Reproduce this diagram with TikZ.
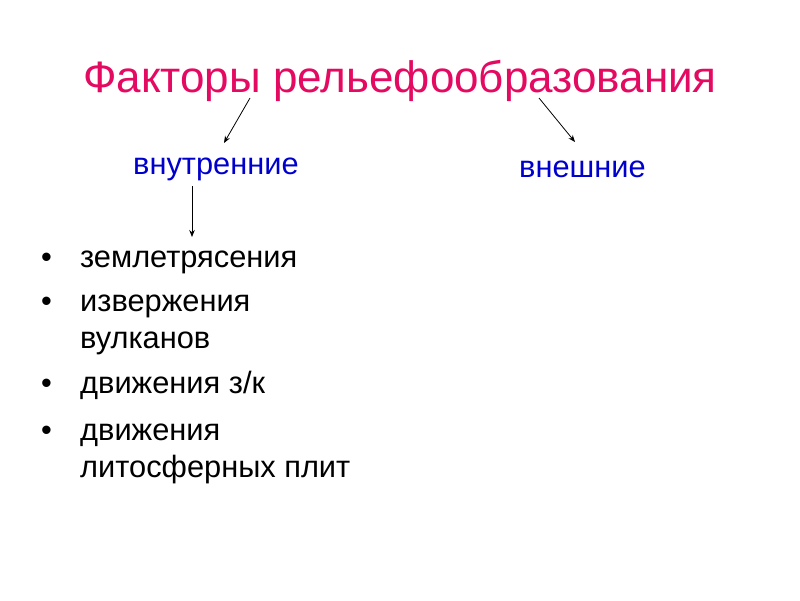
\documentclass[tikz,border=0pt]{standalone}
\usepackage{fontspec}
\setmainfont{Liberation Sans}
\usetikzlibrary{arrows.meta}
\definecolor{titlered}{RGB}{228,10,98}
\definecolor{subblue}{RGB}{0,0,204}
\begin{document}
\begin{tikzpicture}[x=1pt,y=-1pt,
  titletext/.style={font=\fontsize{44}{50}\selectfont, text=titlered, inner sep=0pt, anchor=base west},
  subtext/.style={font=\fontsize{30.8}{34}\selectfont, text=subblue, inner sep=0pt, anchor=base west},
  itemtext/.style={font=\fontsize{30.8}{37}\selectfont, text=black, inner sep=0pt, anchor=base west},
  bul/.style={font=\fontsize{30.8}{37}\selectfont, inner sep=0pt, anchor=base west},
  arr/.style={draw=black, line width=0.8pt, -{Stealth[length=7pt,width=5.5pt]}}]
\useasboundingbox (0,0) rectangle (800,600);
\fill[white] (0,0) rectangle (800,600);
\node[titletext] (title) at (83,92) {Факторы рельефообразования};
\node[subtext] (inner) at (133,174) {внутренние};
\node[subtext] (outer) at (519,177) {внешние};
\coordinate (t1) at (250,98);
\coordinate (t2) at (539,98);
\coordinate (e1) at (224,143);
\coordinate (e2) at (575,142);
\coordinate (d1) at (192,186);
\coordinate (d2) at (192,237);
\draw[arr] (t1) -- (e1);
\draw[arr] (t2) -- (e2);
\draw[arr] (d1) -- (d2);
\node[bul] (b1) at (41,267) {•};
\node[bul] (b2) at (41,311) {•};
\node[bul] (b3) at (41,393) {•};
\node[bul] (b4) at (41,440) {•};
\node[itemtext] (i1) at (80,267) {землетрясения};
\node[itemtext] (i2a) at (80,311) {извержения};
\node[itemtext] (i2b) at (80,348) {вулканов};
\node[itemtext] (i3) at (80,393) {движения з/к};
\node[itemtext] (i4a) at (80,440) {движения};
\node[itemtext] (i4b) at (80,477) {литосферных плит};
\end{tikzpicture}
\end{document}
